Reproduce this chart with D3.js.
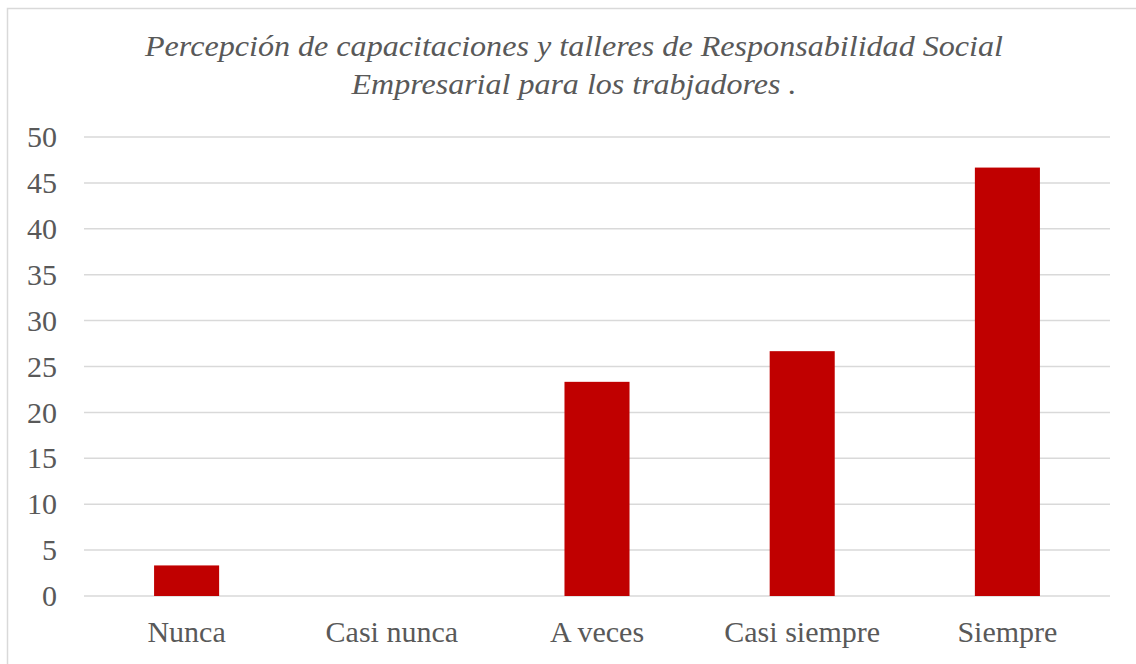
<!DOCTYPE html>
<html>
<head>
<meta charset="utf-8">
<script src="https://cdn.jsdelivr.net/npm/d3@7"></script>
<style>
  body { margin: 0; background: #fff; }
</style>
</head>
<body>
<div id="chart"></div>
<script>
    const categories = ["Nunca", "Casi nunca", "A veces", "Casi siempre", "Siempre"];
    const values = [3.33, 0, 23.33, 26.67, 46.67];
    const yTicks = [0, 5, 10, 15, 20, 25, 30, 35, 40, 45, 50];
    const titleLines = ["Percepción de capacitaciones y talleres de Responsabilidad Social", "Empresarial para los trabjadores ."];
    const titleWidths = [858, 445];

    const width = 1136;
    const height = 664;
    const plotLeft = 84, plotRight = 1110, plotTop = 137, plotBottom = 596;
    const serif = "'Liberation Serif', 'Times New Roman', serif";

    const svg = d3.select("#chart")
      .append("svg")
      .attr("width", width)
      .attr("height", height)
      .style("font-family", serif);

    // chart border (clipped on right and bottom)
    svg.append("rect")
      .attr("x", 7.5)
      .attr("y", 8.5)
      .attr("width", 1150)
      .attr("height", 700)
      .attr("fill", "none")
      .attr("stroke", "#d9d9d9")
      .attr("stroke-width", 1.5);

    const xScale = d3.scaleBand()
      .domain(categories)
      .range([plotLeft, plotRight])
      .paddingInner(0.683)
      .paddingOuter(0.683 / 2);

    const xLabels = d3.scaleBand().domain(categories).range([plotLeft, plotRight]);

    const yScale = d3.scaleLinear()
      .domain([0, 50])
      .range([plotBottom, plotTop]);

    // gridlines
    svg.append("g")
      .selectAll("line")
      .data(yTicks)
      .enter()
      .append("line")
      .attr("x1", plotLeft)
      .attr("x2", plotRight)
      .attr("y1", d => yScale(d))
      .attr("y2", d => yScale(d))
      .attr("stroke", "#d9d9d9")
      .attr("stroke-width", 1.5);

    // bars
    svg.append("g")
      .selectAll("rect")
      .data(values)
      .enter()
      .append("rect")
      .attr("x", (d, i) => xScale(categories[i]))
      .attr("y", d => yScale(d))
      .attr("width", xScale.bandwidth())
      .attr("height", d => yScale(0) - yScale(d))
      .attr("fill", "#c00000");

    // y axis labels
    const yAxis = d3.axisLeft(yScale).tickValues(yTicks).tickSize(0).tickPadding(0);
    const yg = svg.append("g")
      .attr("transform", "translate(57,0)")
      .call(yAxis);
    yg.select(".domain").remove();
    yg.attr("font-family", null).attr("font-size", null);
    yg.selectAll("text")
      .style("font-family", serif)
      .style("font-size", "30px")
      .attr("fill", "#595959");

    // x axis labels
    const xAxis = d3.axisBottom(xLabels).tickSize(0).tickPadding(0);
    const xg = svg.append("g")
      .attr("transform", "translate(0,642)")
      .call(xAxis);
    xg.select(".domain").remove();
    xg.attr("font-family", null).attr("font-size", null);
    xg.selectAll("text")
      .attr("dy", null)
      .style("font-family", serif)
      .style("font-size", "30px")
      .attr("fill", "#595959");

    // title
    svg.append("g")
      .selectAll("text")
      .data(titleLines)
      .enter()
      .append("text")
      .attr("x", 574)
      .attr("y", (d, i) => 56 + i * 38)
      .attr("text-anchor", "middle")
      .attr("textLength", (d, i) => titleWidths[i])
      .attr("lengthAdjust", "spacingAndGlyphs")
      .style("font-family", serif)
      .style("font-size", "29px")
      .style("font-style", "italic")
      .attr("fill", "#595959")
      .text(d => d);
</script>
</body>
</html>
